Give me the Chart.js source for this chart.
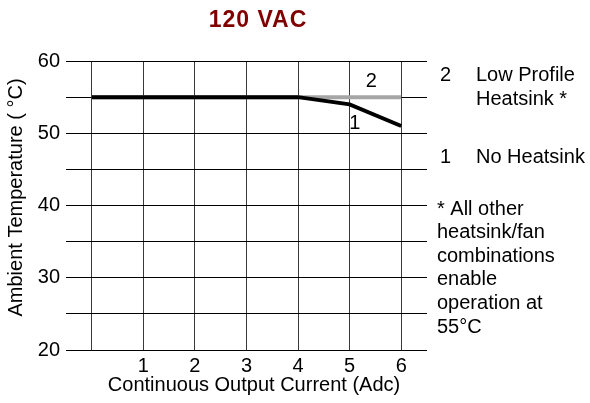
<!DOCTYPE html>
<html>
<head>
<meta charset="utf-8">
<script src="https://cdn.jsdelivr.net/npm/chart.js@4/dist/chart.umd.min.js"></script>
<style>
  html, body { margin: 0; padding: 0; background: #fff; }
  #wrap { width: 590px; height: 403px; }
</style>
</head>
<body>
<div id="wrap"><canvas id="derating"></canvas></div>
<script>
// Derating curve data: ambient temperature vs. output current at 120 VAC
const currents = [0, 1, 2, 3, 4, 5, 6];
const noHeatsink = [55, 55, 55, 55, 55, 54, 51];
const lowProfile = [55, 55, 55, 55, 55, 55, 55];
const xTicks = [0, 1, 2, 3, 4, 5, 6];
const yTicks = [20, 25, 30, 35, 40, 45, 50, 55, 60];
const yLabels = [20, 30, 40, 50, 60];

const FONT = "'Liberation Sans', Arial, sans-serif";

function toPoints(ys) {
  return currents.map((x, i) => ({ x: x, y: ys[i] }));
}

// Heading, axis titles, curve numbers and the notes on the right
const textPlugin = {
  id: 'sideText',
  afterDraw(chart) {
    const ctx = chart.ctx;
    const xs = chart.scales.x, ys = chart.scales.y;
    const area = chart.chartArea;
    ctx.save();
    ctx.fillStyle = '#000';
    ctx.font = '20px ' + FONT;
    ctx.textBaseline = 'middle';
    ctx.textAlign = 'center';

    // curve numbers next to the lines
    ctx.fillText('2', xs.getPixelForValue(5.42), ys.getPixelForValue(57.1));
    ctx.fillText('1', xs.getPixelForValue(5.1), ys.getPixelForValue(51.4));

    // axis titles
    ctx.fillText('Continuous Output Current (Adc)', 254, 385);
    ctx.save();
    ctx.translate(16, (area.top + area.bottom) / 2 - 8);
    ctx.rotate(-Math.PI / 2);
    ctx.fillText('Ambient Temperature ( °C)', 0, 0);
    ctx.restore();

    // notes
    ctx.textAlign = 'left';
    ctx.fillText('2', 440, 75);
    ctx.fillText('Low Profile', 476, 75);
    ctx.fillText('Heatsink *', 476, 99);
    ctx.fillText('1', 440, 157);
    ctx.fillText('No Heatsink', 476, 157);
    const note = ['* All other', 'heatsink/fan', 'combinations', 'enable', 'operation at', '55°C'];
    note.forEach((t, i) => ctx.fillText(t, 437, 209 + i * 23.6));

    // heading
    ctx.fillStyle = '#800000';
    ctx.font = 'bold 23px ' + FONT;
    ctx.letterSpacing = '1px';
    ctx.textAlign = 'center';
    ctx.fillText('120 VAC', 258, 21);
    ctx.restore();
  }
};

new Chart(document.getElementById('derating'), {
  type: 'line',
  data: {
    datasets: [
      {
        label: 'No Heatsink',
        data: toPoints(noHeatsink),
        borderColor: '#000',
        borderWidth: 4,
        pointRadius: 0,
        tension: 0,
        order: 1
      },
      {
        label: 'Low Profile Heatsink',
        data: toPoints(lowProfile),
        borderColor: '#a6a6a6',
        borderWidth: 4,
        pointRadius: 0,
        tension: 0,
        order: 2
      }
    ]
  },
  options: {
    responsive: true,
    maintainAspectRatio: false,
    animation: false,
    layout: { padding: { top: 61, right: 163, left: 0, bottom: 0 } },
    plugins: {
      legend: { display: false },
      tooltip: { enabled: false },
      title: { display: false }
    },
    scales: {
      x: {
        type: 'linear',
        min: -0.5,
        max: 6.5,
        afterBuildTicks(axis) {
          axis.ticks = xTicks.map(v => ({ value: v }));
        },
        afterFit(axis) { axis.height = 53; },
        border: { display: false },
        grid: { color: '#3a3a3a', lineWidth: 1, drawTicks: false },
        ticks: {
          color: '#000',
          font: { family: FONT, size: 20 },
          padding: 4,
          maxRotation: 0,
          autoSkip: false,
          callback: v => (v === 0 ? '' : String(v))
        }
      },
      y: {
        type: 'linear',
        min: 20,
        max: 60,
        afterBuildTicks(axis) {
          axis.ticks = yTicks.map(v => ({ value: v }));
        },
        afterFit(axis) { axis.width = 66; },
        border: { display: false },
        grid: { color: '#000', lineWidth: 1, drawTicks: false },
        ticks: {
          color: '#000',
          font: { family: FONT, size: 20 },
          padding: 6,
          autoSkip: false,
          callback: v => (yLabels.includes(v) ? String(v) : '')
        }
      }
    }
  },
  plugins: [textPlugin]
});
</script>
</body>
</html>
